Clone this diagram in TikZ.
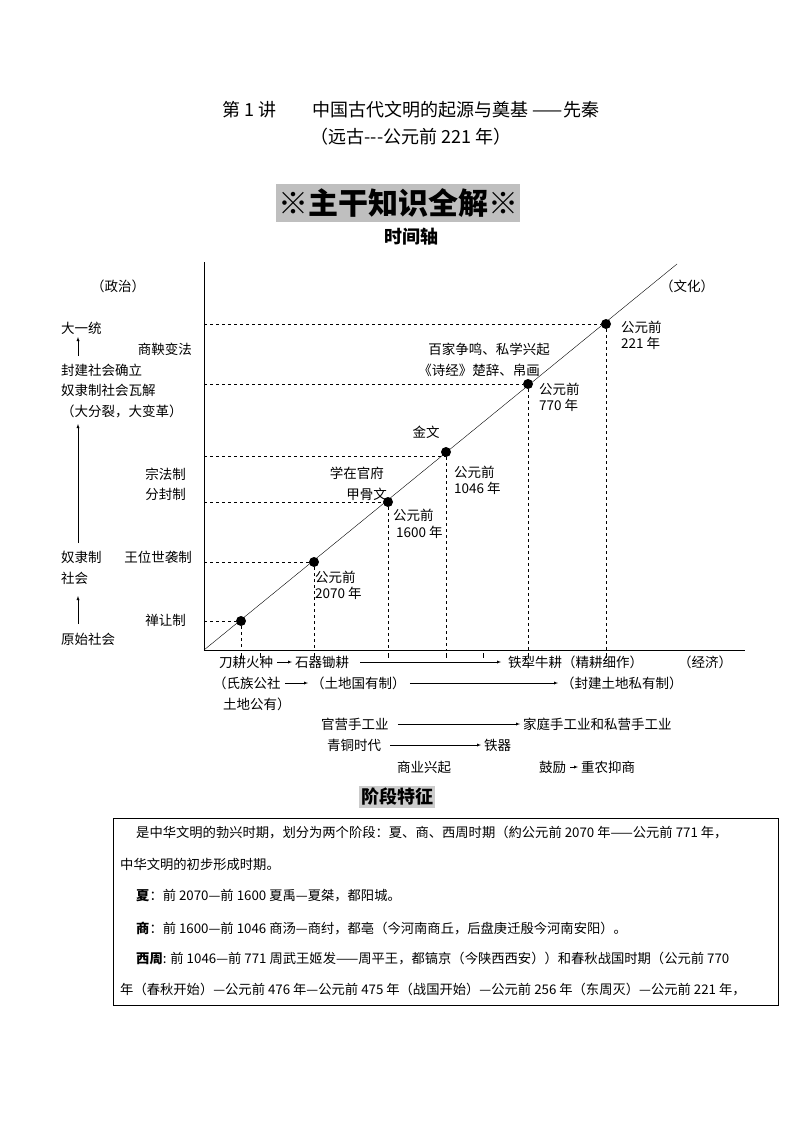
\documentclass[tikz,border=0pt]{standalone}
\usepackage{fontspec}
\setmainfont{Noto Sans CJK SC}
\begin{document}
\begin{tikzpicture}[x=1pt,y=-1pt,
 t/.style={font=\fontsize{13.5}{16}\selectfont,inner sep=1pt},
 dl/.style={dashed,thin},
 ar/.style={-latex,thin,shorten >=2pt,shorten <=3pt},
 dot/.style={circle,fill=black,inner sep=0pt,minimum size=10pt}]
\useasboundingbox (0,0) rectangle (794,1123);
\node[font=\fontsize{18}{20}\selectfont] (t1) at (411,110) {第 1 讲\quad\quad 中国古代文明的起源与奠基 ——先秦};
\node[font=\fontsize{18}{20}\selectfont] (t2) at (411,137) {（远古{-}{-}{-}公元前 221 年）};
\node[fill=black!25,font=\fontsize{30}{32}\selectfont\bfseries,minimum width=235pt,minimum height=38pt,inner sep=2pt] (big) at (398,203) {※主干知识全解※};
\node[font=\fontsize{18}{20}\selectfont\bfseries] (sjz) at (411,237) {时间轴};
% axes
\coordinate (o) at (204,650);
\coordinate (yt) at (204,262);
\coordinate (xe) at (745,650);
\coordinate (de) at (677,264);
\draw (o)--(yt); \draw (o)--(xe); \draw (o)--(de);
\foreach \n/\x/\y in {d1/241/621,d2/314/562,d3/388/502,d4/446/452,d5/528/384,d6/606/324}{
 \node[dot] (\n) at (\x,\y) {};
 \coordinate (\n b) at (\x,650);
 \coordinate (\n l) at (204,\y);
 \draw[dl] (\n)--(\n b);
 \draw (\x,653)--(\x,658);
}
\draw[dl] (d1l)--(d1); \draw[dl] (d2l)--(d2); \draw[dl] (d3l)--(d3);
\coordinate (l4) at (204,456); \coordinate (r4) at (446,456); \draw[dl] (l4)--(r4);
\draw[dl] (d5l)--(d5); \draw[dl] (d6l)--(d6);
\draw (260,653)--(260,658); \draw (483,653)--(483,658);
% dot labels
\node[t,align=left,anchor=north west] at (314,570) {公元前\\2070 年};
\node[t,align=left,anchor=north west] at (392,508) {公元前\\[1pt]\hspace{3pt}1600 年};
\node[t,align=left,anchor=north west] at (453,465) {公元前\\1046 年};
\node[t,align=left,anchor=north west] at (538,382) {公元前\\770 年};
\node[t,align=left,anchor=north west] at (620,320) {公元前\\221 年};
\node[t,anchor=east] at (385,473) {学在官府};
\node[t,anchor=east] at (388,494) {甲骨文};
\node[t] at (426,432) {金文};
\node[t] at (489,349) {百家争鸣、私学兴起};
\node[t] at (479,370) {《诗经》楚辞、帛画};
\node[t] at (687,286) {（文化）};
% left politics
\node[t] at (118,286) {（政治）};
\node[t,anchor=west] (p1) at (60,328) {大一统};
\node[t,anchor=west] (p2) at (60,370) {封建社会确立};
\node[t,anchor=west] (p3) at (60,390) {奴隶制社会瓦解};
\node[t,anchor=west] (p4) at (60,411) {（大分裂，大变革）};
\node[t,anchor=west] (p5) at (60,557) {奴隶制};
\node[t,anchor=west] (p6) at (60,578) {社会};
\node[t,anchor=west] (p7) at (60,639) {原始社会};
\coordinate (a1) at (78,624); \coordinate (a2) at (78,596);
\coordinate (b1) at (78,543); \coordinate (b2) at (78,424);
\coordinate (c1) at (78,356); \coordinate (c2) at (78,337);
\draw[-latex,thin] (a1)--(a2);
\draw[-latex,thin] (b1)--(b2);
\draw[-latex,thin] (c1)--(c2);
\node[t,anchor=east] at (193,349) {商鞅变法};
\node[t,anchor=east] at (187,474) {宗法制};
\node[t,anchor=east] at (187,494) {分封制};
\node[t,anchor=east] at (193,557) {王位世袭制};
\node[t,anchor=east] at (187,620) {禅让制};
% economy
\node[t,anchor=west] (e1) at (218,662) {刀耕火种};
\node[t,anchor=west] (e2) at (294,662) {石器锄耕};
\node[t,anchor=west] (e3) at (507,662) {铁犁牛耕（精耕细作）};
\node[t,anchor=west] (e4) at (677,662) {（经济）};
\draw[ar] (e1)--(e2); \draw[ar,shorten <=10pt,shorten >=6pt] (e2)--(e3);
\node[t,anchor=west] (f1) at (212,683) {（氏族公社};
\node[t,anchor=west] (f1b) at (222,704) {土地公有）};
\node[t,anchor=west] (f2) at (310,683) {（土地国有制）};
\node[t,anchor=west] (f3) at (560,683) {（封建土地私有制）};
\draw[ar] (f1)--(f2); \draw[ar] (f2)--(f3);
\node[t,anchor=west] (g1) at (320,724) {官营手工业};
\node[t,anchor=west] (g2) at (522,724) {家庭手工业和私营手工业};
\draw[ar,shorten <=8pt] (g1)--(g2);
\node[t,anchor=west] (h1) at (326,745) {青铜时代};
\node[t,anchor=west] (h2) at (483,745) {铁器};
\draw[ar,shorten <=8pt] (h1)--(h2);
\node[t,anchor=west] at (396,767) {商业兴起};
\node[t,anchor=west] (k1) at (538,767) {鼓励};
\node[t,anchor=west] (k2) at (580,767) {重农抑商};
\draw[ar] (k1)--(k2);
% stage
\node[fill=black!20,font=\fontsize{18}{20}\selectfont\bfseries,inner sep=2pt] (jd) at (397,797) {阶段特征};
\draw (113,818) rectangle (778,1005);
\begin{scope}[every node/.style={anchor=west,font=\fontsize{13.3}{15}\selectfont,inner sep=0pt}]
\node at (136,833) {是中华文明的勃兴时期，划分为两个阶段：夏、商、西周时期（約公元前 2070 年——公元前 771 年，};
\node at (120,864) {中华文明的初步形成时期。};
\node at (136,896) {\textbf{夏}：前 2070—前 1600 夏禹—夏桀，都阳城。};
\node at (136,928) {\textbf{商}：前 1600—前 1046 商汤—商纣，都亳（今河南商丘，后盘庚迁殷今河南安阳）。};
\node at (136,959) {\textbf{西周}: 前 1046—前 771 周武王姬发——周平王，都镐京（今陕西西安））和春秋战国时期（公元前 770};
\node at (120,990) {年（春秋开始）—公元前 476 年—公元前 475 年（战国开始）—公元前 256 年（东周灭）—公元前 221 年，};
\end{scope}
\end{tikzpicture}
\end{document}
